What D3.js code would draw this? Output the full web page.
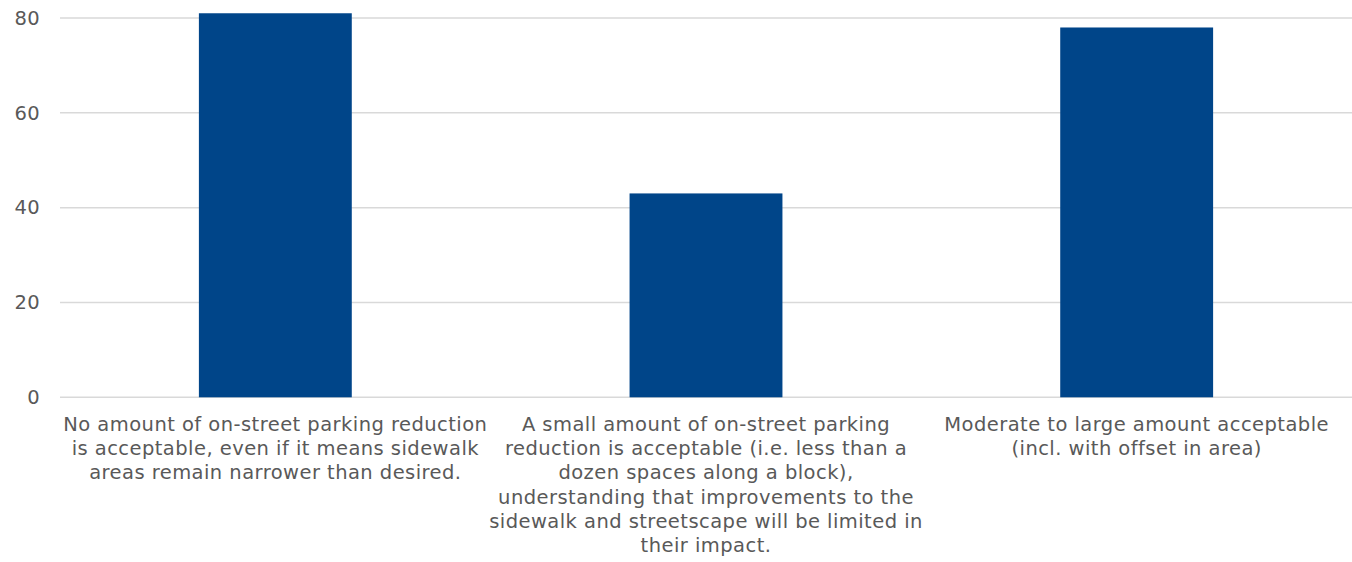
<!DOCTYPE html>
<html>
<head>
<meta charset="utf-8">
<script src="https://cdn.jsdelivr.net/npm/d3@7"></script>
<style>
  html, body { margin: 0; padding: 0; background: #fff; }
  svg text { font-family: "DejaVu Sans", Verdana, sans-serif; fill: #595959; }
</style>
</head>
<body>
<svg id="chart" width="1352" height="562"></svg>
<script>
// Survey responses on on-street parking reduction
const categories = [
  "No amount of on-street parking reduction\nis acceptable, even if it means sidewalk\nareas remain narrower than desired.",
  "A small amount of on-street parking\nreduction is acceptable (i.e. less than a\ndozen spaces along a block),\nunderstanding that improvements to the\nsidewalk and streetscape will be limited in\ntheir impact.",
  "Moderate to large amount acceptable\n(incl. with offset in area)"
];
const values = [81, 43, 78];
const yTicks = [0, 20, 40, 60, 80];

const svg = d3.select("#chart");
const plotLeft = 60, plotRight = 1352, plotTop = 18, plotBottom = 397.3;

const x = d3.scaleBand()
  .domain(categories)
  .range([plotLeft, plotRight])
  .paddingInner(0.645)
  .paddingOuter(0.3225);

const y = d3.scaleLinear().domain([0, 80]).range([plotBottom, plotTop]);

// gridlines
svg.append("g").selectAll("line").data(yTicks).join("line")
  .attr("x1", plotLeft).attr("x2", plotRight)
  .attr("y1", d => y(d)).attr("y2", d => y(d))
  .attr("stroke", "#d9d9d9").attr("stroke-width", 1.5);

// y axis labels
const yAxis = svg.append("g")
  .attr("transform", `translate(${plotLeft - 20},0)`)
  .call(d3.axisLeft(y).tickValues(yTicks).tickSize(0).tickPadding(0));
yAxis.select(".domain").remove();
yAxis.selectAll("text")
  .attr("font-size", 19.5).attr("fill", "#595959")
  .style("letter-spacing", "0.3px")
  .style("font-family", "DejaVu Sans, Verdana, sans-serif");

// bars
svg.append("g").selectAll("rect").data(values).join("rect")
  .attr("x", (d, i) => x(categories[i]))
  .attr("width", x.bandwidth())
  .attr("y", d => y(d))
  .attr("height", d => y(0) - y(d))
  .attr("fill", "#004589");

// category labels, one tspan per line
const lab = svg.append("g").selectAll("text").data(categories).join("text")
  .attr("text-anchor", "middle")
  .attr("font-size", 19.5)
  .style("letter-spacing", "0.45px")
  .attr("x", d => x(d) + x.bandwidth() / 2)
  .attr("y", 431);
lab.selectAll("tspan").data(d => d.split("\n")).join("tspan")
  .attr("x", function() { return this.parentNode.getAttribute("x"); })
  .attr("dy", (d, i) => i === 0 ? 0 : 24.2)
  .text(d => d);
</script>
</body>
</html>
